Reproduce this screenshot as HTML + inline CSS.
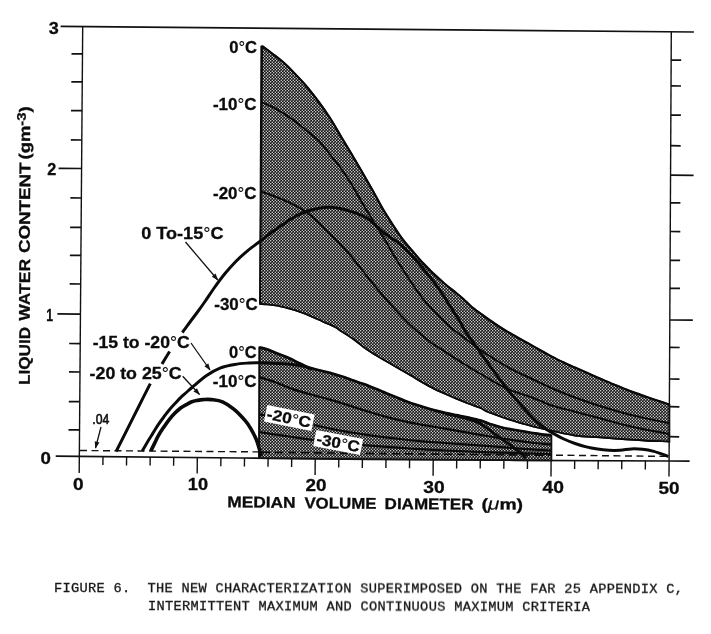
<!DOCTYPE html>
<html><head><meta charset="utf-8"><title>Figure 6</title>
<style>
html,body{margin:0;padding:0;background:#fff;}
body{width:711px;height:634px;position:relative;overflow:hidden;font-family:"Liberation Sans",sans-serif;}
svg text.b{font-family:"Liberation Sans",sans-serif;font-weight:bold;fill:#0c0c0c;stroke:#0c0c0c;stroke-width:0.3px;}
svg tspan.mu{font-weight:normal;font-style:italic;stroke-width:0.15px;}
svg tspan.dg{font-weight:normal;stroke-width:0.1px;}
svg text.n{font-family:"Liberation Sans",sans-serif;font-weight:normal;fill:#111;stroke:#111;stroke-width:0.6px;}
.cap{position:absolute;will-change:transform;font-family:"Liberation Mono",monospace;font-size:13.7px;letter-spacing:0.29px;color:#151515;-webkit-text-stroke:0.3px #151515;white-space:pre;line-height:1;transform-origin:0 0;}
</style></head><body>
<svg width="711" height="634" viewBox="0 0 711 634" style="position:absolute;left:0;top:0;will-change:transform">
<defs><pattern id="ht" width="3" height="3" patternUnits="userSpaceOnUse"><rect width="3" height="3" fill="#111"/><circle cx="0.75" cy="0.75" r="0.66" fill="#fff"/><circle cx="2.25" cy="2.25" r="0.66" fill="#fff"/></pattern>
<marker id="ah" viewBox="0 0 10 10" refX="9" refY="5" markerWidth="9" markerHeight="7" orient="auto" markerUnits="userSpaceOnUse"><path d="M0,1.5 L10,5 L0,8.5 Z" fill="#111"/></marker></defs>
<path d="M262.3,46.2 C264.2,47.6 270.0,51.9 273.8,54.8 C277.6,57.7 281.2,60.4 285.0,63.8 C288.8,67.2 292.6,71.3 296.3,75.3 C300.1,79.2 303.8,83.0 307.5,87.5 C311.2,92.0 315.1,96.9 318.8,102.0 C322.6,107.1 326.2,112.2 330.0,118.0 C333.8,123.8 337.6,130.7 341.3,137.0 C345.1,143.3 349.2,150.0 352.5,155.6 C355.8,161.2 358.0,164.9 361.1,170.3 C364.2,175.7 367.7,181.7 371.3,188.0 C374.9,194.3 378.8,201.9 382.5,208.3 C386.2,214.7 390.4,221.1 393.8,226.3 C397.2,231.5 399.9,235.6 402.8,239.5 C405.7,243.4 408.0,245.8 411.3,249.7 C414.6,253.5 418.8,258.6 422.5,262.6 C426.2,266.6 430.1,270.3 433.8,273.9 C437.6,277.5 441.2,280.8 445.0,284.0 C448.8,287.2 453.1,290.4 456.3,293.0 C459.5,295.6 461.6,297.6 464.1,299.8 C466.6,302.1 468.2,304.0 471.3,306.5 C474.4,309.0 478.8,312.2 482.5,315.0 C486.2,317.8 490.1,320.4 493.8,323.0 C497.6,325.6 501.2,328.0 505.0,330.3 C508.8,332.6 512.5,334.6 516.3,336.7 C520.0,338.8 523.3,340.7 527.5,343.0 C531.7,345.3 537.1,348.4 541.3,350.7 C545.5,353.0 548.8,354.9 552.5,356.9 C556.2,358.9 560.0,360.7 563.8,362.5 C567.5,364.3 571.2,365.9 575.0,367.6 C578.8,369.3 582.5,370.9 586.3,372.6 C590.0,374.3 593.3,375.8 597.5,377.6 C601.7,379.4 607.1,381.7 611.3,383.4 C615.5,385.1 618.8,386.4 622.5,387.9 C626.2,389.4 630.0,391.0 633.8,392.4 C637.5,393.8 641.2,395.1 645.0,396.4 C648.8,397.7 652.2,398.9 656.3,400.3 C660.4,401.7 667.3,403.8 669.5,404.5 L669.5,441.3 L669.5,441.6 C665.4,441.4 652.8,441.0 645.0,440.6 C637.2,440.2 630.0,439.6 622.5,439.1 C615.0,438.6 607.9,438.0 600.0,437.4 C592.1,436.8 582.9,436.7 575.0,435.6 C567.1,434.5 557.9,432.1 552.5,431.0 C547.1,429.9 546.0,429.7 542.5,428.8 C539.0,427.9 535.0,426.9 531.3,425.9 C527.5,424.9 523.8,424.1 520.0,423.0 C516.2,421.9 512.5,420.8 508.8,419.6 C505.1,418.4 501.2,417.0 497.5,415.6 C493.8,414.2 489.2,412.6 486.3,411.3 C483.4,410.0 483.1,409.1 480.0,407.8 C476.9,406.5 471.4,404.8 467.5,403.3 C463.6,401.8 460.1,400.4 456.3,398.8 C452.6,397.2 448.8,395.5 445.0,393.8 C441.2,392.1 437.6,390.6 433.8,388.7 C430.1,386.8 426.2,384.6 422.5,382.5 C418.8,380.4 415.1,378.0 411.3,375.8 C407.6,373.6 404.2,371.7 400.0,369.3 C395.8,366.9 390.5,363.8 386.3,361.4 C382.1,359.0 378.8,357.0 375.0,354.7 C371.2,352.4 367.6,350.0 363.8,347.3 C360.1,344.6 356.2,341.3 352.5,338.6 C348.8,335.9 344.2,333.2 341.3,331.3 C338.4,329.4 338.1,328.7 335.0,327.1 C331.9,325.5 326.4,323.3 322.5,321.5 C318.6,319.7 315.1,318.0 311.3,316.4 C307.6,314.8 303.8,313.2 300.0,311.9 C296.2,310.6 292.6,309.6 288.8,308.6 C285.1,307.6 281.2,306.5 277.5,305.8 C273.8,305.1 269.2,304.7 266.3,304.4 C263.4,304.1 261.1,304.2 260.0,304.1 Z" fill="url(#ht)" stroke="#111" stroke-width="1.6" stroke-linejoin="miter"/>
<path d="M259.3,347.4 C260.5,347.7 263.3,348.1 266.3,349.1 C269.3,350.1 273.8,352.1 277.5,353.6 C281.2,355.1 285.1,356.5 288.8,358.1 C292.6,359.8 296.6,361.9 300.0,363.5 C303.4,365.1 304.0,365.9 309.0,367.5 C314.0,369.1 324.6,371.4 330.0,372.9 C335.4,374.4 337.6,375.1 341.3,376.3 C345.1,377.5 348.8,378.9 352.5,380.2 C356.2,381.5 360.1,382.7 363.8,384.1 C367.6,385.5 371.2,387.1 375.0,388.6 C378.8,390.1 382.1,391.5 386.3,393.2 C390.5,394.9 395.8,397.1 400.0,398.8 C404.2,400.5 407.6,402.0 411.3,403.3 C415.1,404.6 418.8,405.6 422.5,406.7 C426.2,407.8 430.1,409.1 433.8,410.1 C437.6,411.1 441.2,412.1 445.0,412.9 C448.8,413.7 452.6,414.4 456.3,415.1 C460.1,415.9 463.6,416.5 467.5,417.4 C471.4,418.3 476.2,419.3 480.0,420.4 C483.8,421.5 486.5,422.9 490.0,424.0 C493.5,425.1 497.2,426.3 501.0,427.2 C504.8,428.1 506.8,428.5 512.5,429.5 C518.2,430.5 528.5,432.3 535.0,433.3 C541.5,434.3 548.8,435.1 551.5,435.5 L551.5,460.5 L259.3,458.2 Z" fill="url(#ht)" stroke="#111" stroke-width="1.6"/>
<path d="M261.4,102.0 C263.5,102.9 269.9,105.5 273.8,107.6 C277.7,109.7 281.2,112.0 285.0,114.4 C288.8,116.9 292.6,119.5 296.3,122.3 C300.1,125.1 303.8,128.4 307.5,131.5 C311.2,134.6 315.1,137.0 318.8,140.8 C322.6,144.6 326.5,150.1 330.0,154.5 C333.5,158.9 336.4,162.1 340.0,167.0 C343.6,171.9 347.6,177.9 351.3,184.0 C355.1,190.1 358.8,197.2 362.5,203.5 C366.2,209.8 370.1,215.9 373.8,222.0 C377.6,228.1 381.2,233.8 385.0,240.0 C388.8,246.2 392.4,253.0 396.3,259.3 C400.2,265.6 405.0,272.8 408.4,278.0 C411.8,283.2 414.1,286.7 416.9,290.6 C419.7,294.5 422.5,298.2 425.3,301.6 C428.1,305.0 431.0,307.9 433.8,310.9 C436.6,313.8 439.3,316.4 442.2,319.3 C445.1,322.2 447.9,325.1 451.3,328.0 C454.7,330.9 458.8,333.7 462.5,336.5 C466.2,339.3 470.1,342.2 473.8,345.0 C477.6,347.8 479.4,349.3 485.0,353.0 C490.6,356.7 500.0,362.8 507.5,367.0 C515.0,371.2 522.5,374.4 530.0,378.0 C537.5,381.6 545.0,385.2 552.5,388.5 C560.0,391.8 567.5,394.7 575.0,397.5 C582.5,400.3 590.0,402.9 597.5,405.3 C605.0,407.7 612.5,409.9 620.0,412.0 C627.5,414.1 634.2,415.7 642.5,417.6 C650.8,419.5 665.0,422.4 669.5,423.3" fill="none" stroke="#0a0a0a" stroke-width="2.0"/>
<path d="M261.4,191.5 C265.3,193.0 277.3,196.9 285.0,200.5 C292.7,204.1 300.0,207.3 307.5,212.9 C315.0,218.5 324.6,228.8 330.0,234.0 C335.4,239.2 336.4,240.2 340.0,244.0 C343.6,247.8 347.6,252.1 351.3,256.5 C355.1,260.9 358.9,266.0 362.5,270.5 C366.1,275.0 368.8,278.7 372.8,283.5 C376.8,288.3 381.8,294.3 386.3,299.5 C390.8,304.7 396.3,310.6 400.0,314.5 C403.7,318.4 405.6,320.4 408.4,323.2 C411.2,325.9 414.1,328.5 416.9,331.0 C419.7,333.5 422.5,335.7 425.3,338.0 C428.1,340.3 431.4,342.9 433.8,344.6 C436.2,346.3 435.2,345.3 440.0,348.4 C444.8,351.5 455.0,358.3 462.5,363.0 C470.0,367.7 477.5,372.2 485.0,376.5 C492.5,380.8 500.0,385.5 507.5,388.9 C515.0,392.3 524.4,394.7 530.0,396.8 C535.6,398.9 537.5,399.8 541.3,401.3 C545.0,402.8 546.9,404.1 552.5,405.8 C558.1,407.5 567.1,409.6 575.0,411.7 C582.9,413.8 592.1,416.2 600.0,418.3 C607.9,420.4 615.0,422.6 622.5,424.5 C630.0,426.4 637.2,428.0 645.0,429.6 C652.8,431.2 665.4,433.3 669.5,434.0" fill="none" stroke="#0a0a0a" stroke-width="2.0"/>
<path d="M259.3,377.1 C262.0,378.0 269.8,380.2 275.3,382.2 C280.8,384.2 286.6,386.9 292.2,388.9 C297.8,390.9 302.7,392.2 309.0,394.0 C315.3,395.8 323.8,397.9 330.0,399.6 C336.2,401.4 340.4,402.7 346.0,404.5 C351.6,406.3 357.1,408.1 363.8,410.2 C370.5,412.3 380.3,415.2 386.3,416.9 C392.3,418.6 396.1,419.4 400.0,420.3 C403.9,421.2 406.2,421.9 410.0,422.6 C413.8,423.4 416.7,423.8 422.5,424.8 C428.3,425.8 437.5,427.3 445.0,428.6 C452.5,429.9 460.0,431.3 467.5,432.6 C475.0,433.9 482.5,435.2 490.0,436.5 C497.5,437.8 505.0,439.0 512.5,440.1 C520.0,441.2 528.5,442.2 535.0,443.0 C541.5,443.8 548.8,444.3 551.5,444.6" fill="none" stroke="#0a0a0a" stroke-width="2.2"/>
<path d="M259.3,414.3 C260.8,414.6 266.6,415.6 268.0,415.8" fill="none" stroke="#0a0a0a" stroke-width="2.2"/>
<path d="M314.0,425.0 C317.4,425.8 328.2,428.2 334.4,429.5 C340.6,430.8 345.4,431.5 351.3,432.5 C357.2,433.5 361.9,434.3 370.0,435.4 C378.1,436.5 391.2,438.0 400.0,439.0 C408.8,440.0 415.0,440.6 422.5,441.3 C430.0,442.0 437.5,442.4 445.0,443.0 C452.5,443.6 460.0,444.1 467.5,444.6 C475.0,445.1 482.5,445.6 490.0,446.2 C497.5,446.8 505.0,447.4 512.5,448.0 C520.0,448.6 528.5,449.2 535.0,449.6 C541.5,450.1 548.8,450.5 551.5,450.7" fill="none" stroke="#0a0a0a" stroke-width="2.2"/>
<path d="M259.3,432.0 C262.0,432.4 269.8,433.7 275.3,434.5 C280.8,435.3 285.8,436.1 292.2,437.0 C298.6,437.9 310.4,439.7 314.0,440.2" fill="none" stroke="#0a0a0a" stroke-width="2.2"/>
<path d="M362.5,445.1 C366.5,445.4 378.4,446.2 386.3,446.8 C394.2,447.4 400.2,447.9 410.0,448.5 C419.8,449.1 431.7,449.9 445.0,450.5 C458.3,451.1 472.2,451.7 490.0,452.3 C507.8,452.9 541.2,453.7 551.5,454.0" fill="none" stroke="#0a0a0a" stroke-width="2.2"/>
<path d="M262.3,46.2 C264.2,47.6 270.0,51.9 273.8,54.8 C277.6,57.7 281.2,60.4 285.0,63.8 C288.8,67.2 292.6,71.3 296.3,75.3 C300.1,79.2 303.8,83.0 307.5,87.5 C311.2,92.0 315.1,96.9 318.8,102.0 C322.6,107.1 326.2,112.2 330.0,118.0 C333.8,123.8 337.6,130.7 341.3,137.0 C345.1,143.3 349.2,150.0 352.5,155.6 C355.8,161.2 358.0,164.9 361.1,170.3 C364.2,175.7 367.7,181.7 371.3,188.0 C374.9,194.3 378.8,201.9 382.5,208.3 C386.2,214.7 390.4,221.1 393.8,226.3 C397.2,231.5 399.9,235.6 402.8,239.5 C405.7,243.4 408.0,245.8 411.3,249.7 C414.6,253.5 418.8,258.6 422.5,262.6 C426.2,266.6 430.1,270.3 433.8,273.9 C437.6,277.5 441.2,280.8 445.0,284.0 C448.8,287.2 453.1,290.4 456.3,293.0 C459.5,295.6 461.6,297.6 464.1,299.8 C466.6,302.1 468.2,304.0 471.3,306.5 C474.4,309.0 478.8,312.2 482.5,315.0 C486.2,317.8 490.1,320.4 493.8,323.0 C497.6,325.6 501.2,328.0 505.0,330.3 C508.8,332.6 512.5,334.6 516.3,336.7 C520.0,338.8 523.3,340.7 527.5,343.0 C531.7,345.3 537.1,348.4 541.3,350.7 C545.5,353.0 548.8,354.9 552.5,356.9 C556.2,358.9 560.0,360.7 563.8,362.5 C567.5,364.3 571.2,365.9 575.0,367.6 C578.8,369.3 582.5,370.9 586.3,372.6 C590.0,374.3 593.3,375.8 597.5,377.6 C601.7,379.4 607.1,381.7 611.3,383.4 C615.5,385.1 618.8,386.4 622.5,387.9 C626.2,389.4 630.0,391.0 633.8,392.4 C637.5,393.8 641.2,395.1 645.0,396.4 C648.8,397.7 652.2,398.9 656.3,400.3 C660.4,401.7 667.3,403.8 669.5,404.5" fill="none" stroke="#0a0a0a" stroke-width="2.2"/>
<path d="M261.3,45.8 L260.0,304.3" fill="none" stroke="#0a0a0a" stroke-width="1.8"/>
<path d="M260.0,304.1 C261.1,304.2 263.4,304.1 266.3,304.4 C269.2,304.7 273.8,305.1 277.5,305.8 C281.2,306.5 285.1,307.6 288.8,308.6 C292.6,309.6 296.2,310.6 300.0,311.9 C303.8,313.2 307.6,314.8 311.3,316.4 C315.1,318.0 318.6,319.7 322.5,321.5 C326.4,323.3 331.9,325.5 335.0,327.1 C338.1,328.7 338.4,329.4 341.3,331.3 C344.2,333.2 348.8,335.9 352.5,338.6 C356.2,341.3 360.1,344.6 363.8,347.3 C367.6,350.0 371.2,352.4 375.0,354.7 C378.8,357.0 382.1,359.0 386.3,361.4 C390.5,363.8 395.8,366.9 400.0,369.3 C404.2,371.7 407.6,373.6 411.3,375.8 C415.1,378.0 418.8,380.4 422.5,382.5 C426.2,384.6 430.1,386.8 433.8,388.7 C437.6,390.6 441.2,392.1 445.0,393.8 C448.8,395.5 452.6,397.2 456.3,398.8 C460.1,400.4 463.6,401.8 467.5,403.3 C471.4,404.8 476.9,406.5 480.0,407.8 C483.1,409.1 483.4,410.0 486.3,411.3 C489.2,412.6 493.8,414.2 497.5,415.6 C501.2,417.0 505.1,418.4 508.8,419.6 C512.5,420.8 516.2,421.9 520.0,423.0 C523.8,424.1 527.5,424.9 531.3,425.9 C535.0,426.9 539.0,427.9 542.5,428.8 C546.0,429.7 547.1,429.9 552.5,431.0 C557.9,432.1 567.1,434.5 575.0,435.6 C582.9,436.7 592.1,436.8 600.0,437.4 C607.9,438.0 615.0,438.6 622.5,439.1 C630.0,439.6 637.2,440.2 645.0,440.6 C652.8,441.0 665.4,441.4 669.5,441.6" fill="none" stroke="#0a0a0a" stroke-width="1.6"/>
<path d="M259.3,347.4 C260.5,347.7 263.3,348.1 266.3,349.1 C269.3,350.1 273.8,352.1 277.5,353.6 C281.2,355.1 285.1,356.5 288.8,358.1 C292.6,359.8 296.6,361.9 300.0,363.5 C303.4,365.1 304.0,365.9 309.0,367.5 C314.0,369.1 324.6,371.4 330.0,372.9 C335.4,374.4 337.6,375.1 341.3,376.3 C345.1,377.5 348.8,378.9 352.5,380.2 C356.2,381.5 360.1,382.7 363.8,384.1 C367.6,385.5 371.2,387.1 375.0,388.6 C378.8,390.1 382.1,391.5 386.3,393.2 C390.5,394.9 395.8,397.1 400.0,398.8 C404.2,400.5 407.6,402.0 411.3,403.3 C415.1,404.6 418.8,405.6 422.5,406.7 C426.2,407.8 430.1,409.1 433.8,410.1 C437.6,411.1 441.2,412.1 445.0,412.9 C448.8,413.7 452.6,414.4 456.3,415.1 C460.1,415.9 463.6,416.5 467.5,417.4 C471.4,418.3 476.2,419.3 480.0,420.4 C483.8,421.5 486.5,422.9 490.0,424.0 C493.5,425.1 497.2,426.3 501.0,427.2 C504.8,428.1 506.8,428.5 512.5,429.5 C518.2,430.5 528.5,432.3 535.0,433.3 C541.5,434.3 548.8,435.1 551.5,435.5" fill="none" stroke="#0a0a0a" stroke-width="2.7"/>
<path d="M259.6,347 L259,457.5" fill="none" stroke="#0a0a0a" stroke-width="1.8"/>
<g stroke="#111" stroke-width="1.7" fill="none">
<path d="M60.6,26.4 L693.9,32.0"/>
<path d="M82.7,26.6 L79.2,473" stroke-width="1.4"/>
<path d="M671.3,31.7 L669,476.5" stroke-width="1.4"/>
<path d="M55.7,456.2 L79.4,456.4 L240.0,458.0 L370.0,459.5 L515.0,460.3 L669.0,461.0 L689.6,461.2"/>
<path d="M71.5,53.8 L82.5,53.9"/>
<path d="M71.3,81.8 L82.3,81.9"/>
<path d="M71.0,110.6 L82.0,110.7"/>
<path d="M70.8,139.9 L81.8,140.0"/>
<path d="M58.6,168.3 L81.6,168.5"/>
<path d="M70.4,197.9 L81.4,198.0"/>
<path d="M70.1,227.3 L81.1,227.4"/>
<path d="M69.9,255.3 L80.9,255.4"/>
<path d="M69.7,283.9 L80.7,284.0"/>
<path d="M57.4,313.9 L80.4,314.1"/>
<path d="M69.2,343.5 L80.2,343.6"/>
<path d="M69.0,371.9 L80.0,372.0"/>
<path d="M68.8,401.6 L79.8,401.7"/>
<path d="M68.5,429.8 L79.5,429.9"/>
<path d="M671.2,60.1 L681.2,60.2"/>
<path d="M671.0,85.9 L681.0,86.0"/>
<path d="M670.9,115.1 L680.9,115.2"/>
<path d="M670.7,145.7 L680.7,145.8"/>
<path d="M670.6,175.1 L693.6,175.3"/>
<path d="M670.4,202.8 L680.4,202.9"/>
<path d="M670.3,231.5 L680.3,231.6"/>
<path d="M670.1,260.3 L680.1,260.4"/>
<path d="M670.0,288.3 L680.0,288.4"/>
<path d="M669.8,320.0 L692.8,320.2"/>
<path d="M669.7,347.4 L679.7,347.5"/>
<path d="M669.5,379.0 L679.5,379.1"/>
<path d="M669.4,406.7 L679.4,406.8"/>
<path d="M669.2,436.7 L679.2,436.8"/>
<path d="M103.0,456.6 L102.9,465.1" stroke-width="1.4"/>
<path d="M126.6,456.9 L126.5,465.4" stroke-width="1.4"/>
<path d="M150.2,457.1 L150.1,465.6" stroke-width="1.4"/>
<path d="M173.7,457.3 L173.6,465.8" stroke-width="1.4"/>
<path d="M197.3,457.6 L197.2,473.6" stroke-width="1.4"/>
<path d="M220.9,457.8 L220.8,466.3" stroke-width="1.4"/>
<path d="M244.5,458.1 L244.4,466.6" stroke-width="1.4"/>
<path d="M268.1,458.3 L268.0,466.8" stroke-width="1.4"/>
<path d="M291.7,458.6 L291.6,467.1" stroke-width="1.4"/>
<path d="M315.2,458.9 L315.1,474.9" stroke-width="1.4"/>
<path d="M338.8,459.1 L338.7,467.6" stroke-width="1.4"/>
<path d="M362.4,459.4 L362.3,467.9" stroke-width="1.4"/>
<path d="M386.0,459.6 L385.9,468.1" stroke-width="1.4"/>
<path d="M409.6,459.7 L409.5,468.2" stroke-width="1.4"/>
<path d="M433.2,459.8 L433.1,475.8" stroke-width="1.4"/>
<path d="M456.7,460.0 L456.6,468.5" stroke-width="1.4"/>
<path d="M480.3,460.1 L480.2,468.6" stroke-width="1.4"/>
<path d="M503.9,460.2 L503.8,468.7" stroke-width="1.4"/>
<path d="M527.5,460.4 L527.4,468.9" stroke-width="1.4"/>
<path d="M551.1,460.5 L551.0,476.5" stroke-width="1.4"/>
<path d="M574.7,460.6 L574.6,469.1" stroke-width="1.4"/>
<path d="M598.2,460.7 L598.1,469.2" stroke-width="1.4"/>
<path d="M621.8,460.8 L621.7,469.3" stroke-width="1.4"/>
<path d="M645.4,460.9 L645.3,469.4" stroke-width="1.4"/>
</g>
<path d="M80,450.5 L259,451.9" stroke="#111" stroke-width="1.4" stroke-dasharray="7,4.5" fill="none"/>
<path d="M262,452.3 L551,455.3" stroke="#0a0a0a" stroke-width="1.6" stroke-dasharray="8,5" fill="none"/>
<path d="M556,455.2 L668,456.4" stroke="#111" stroke-width="1.4" stroke-dasharray="7,4.5" fill="none"/>
<path d="M116.1,451.5 C118.0,447.7 123.7,436.5 127.5,428.9 C131.3,421.3 135.2,413.6 139.0,406.0 C142.8,398.4 148.4,387.3 150.3,383.6" fill="none" stroke="#0a0a0a" stroke-width="3" stroke-linecap="butt"/>
<path d="M162.0,364.0 C162.6,363.0 164.3,360.1 165.6,358.0 C166.9,355.9 168.9,352.6 169.6,351.5" fill="none" stroke="#0a0a0a" stroke-width="3" stroke-linecap="butt"/>
<path d="M182.3,332.5 C183.6,330.8 187.5,325.4 190.0,322.0 C192.5,318.6 195.0,315.4 197.5,312.0 C200.0,308.6 202.3,305.4 205.0,301.5 C207.7,297.6 210.5,293.2 213.8,288.5 C217.1,283.8 221.2,278.1 225.0,273.5 C228.8,268.9 232.6,264.8 236.3,261.0 C240.1,257.2 243.8,253.9 247.5,250.8 C251.2,247.7 254.7,245.4 258.8,242.3 C262.9,239.2 267.6,235.2 272.0,232.0 C276.4,228.8 281.0,225.7 285.0,223.0 C289.0,220.3 292.2,218.0 296.0,216.0 C299.8,214.0 303.7,212.3 307.5,211.0 C311.3,209.7 315.2,208.8 319.0,208.2 C322.8,207.6 326.5,207.2 330.0,207.3 C333.5,207.4 337.0,207.9 340.0,208.5 C343.0,209.1 345.0,209.7 348.0,210.6 C351.0,211.5 355.0,212.7 358.0,213.8 C361.0,215.0 363.7,216.1 366.0,217.5 C368.3,218.9 370.0,220.3 372.0,222.0 C374.0,223.7 376.2,225.8 378.0,227.4 C379.8,229.0 380.7,230.0 382.5,231.5 C384.3,233.0 386.1,234.4 389.0,236.5 C391.9,238.6 396.3,240.9 400.0,244.0 C403.7,247.1 407.6,251.0 411.3,255.0 C415.1,259.0 418.8,263.5 422.5,268.0 C426.2,272.5 430.4,277.4 433.8,281.8 C437.2,286.2 440.0,290.3 442.8,294.5 C445.6,298.7 447.7,302.5 450.6,307.0 C453.5,311.5 457.5,317.6 460.0,321.7 C462.5,325.8 463.7,328.6 465.6,331.6 C467.5,334.6 469.4,337.1 471.3,339.7 C473.2,342.3 475.0,344.9 476.9,347.5 C478.8,350.1 480.3,352.4 482.5,355.5 C484.7,358.6 487.7,362.8 490.0,366.0 C492.3,369.2 493.4,370.7 496.3,374.6 C499.2,378.5 504.9,385.9 507.5,389.3 C510.1,392.7 510.2,392.7 512.1,394.9 C514.0,397.1 515.8,399.2 518.8,402.6 C521.8,406.0 526.8,411.6 530.0,415.0 C533.2,418.4 535.2,420.6 538.0,423.0 C540.8,425.4 544.2,427.8 547.0,429.7 C549.8,431.6 552.2,432.8 555.0,434.4 C557.8,435.9 560.5,437.5 563.8,439.0 C567.1,440.5 571.2,442.2 575.0,443.5 C578.8,444.8 582.5,446.0 586.3,446.9 C590.0,447.8 593.8,448.5 597.5,449.1 C601.2,449.7 605.0,450.1 608.8,450.3 C612.5,450.5 616.2,450.5 620.0,450.3 C623.8,450.1 627.5,449.1 631.3,448.9 C635.0,448.7 638.8,448.9 642.5,449.3 C646.2,449.7 650.0,450.4 653.8,451.4 C657.5,452.4 662.6,454.3 665.0,455.2 C667.4,456.1 667.8,456.3 668.4,456.5" fill="none" stroke="#0a0a0a" stroke-width="3" stroke-linecap="butt"/>
<path d="M142.2,451.0 C143.0,449.6 145.2,445.8 146.9,442.9 C148.6,440.0 150.6,436.9 152.5,433.9 C154.4,430.9 156.2,427.7 158.1,424.9 C160.0,422.1 161.9,419.5 163.8,417.0 C165.7,414.5 167.5,411.9 169.4,409.7 C171.3,407.4 173.1,405.5 175.0,403.5 C176.9,401.5 178.7,399.4 180.6,397.6 C182.5,395.8 184.3,394.3 186.3,392.5 C188.3,390.7 189.1,389.9 192.5,387.0 C195.9,384.1 201.9,378.6 206.6,375.4 C211.3,372.2 215.9,369.6 220.6,367.8 C225.3,366.0 230.0,365.2 234.7,364.4 C239.4,363.6 244.7,363.3 248.8,363.0 C252.9,362.7 254.9,362.7 259.3,362.8 C263.7,362.9 269.8,363.1 275.3,363.4 C280.8,363.7 287.4,364.0 292.2,364.5 C297.0,365.0 300.7,365.6 304.0,366.4 C307.3,367.2 310.7,368.7 312.0,369.2" fill="none" stroke="#0a0a0a" stroke-width="3"/>
<path d="M445.0,413.6 C446.8,414.0 452.3,415.2 456.0,416.0 C459.7,416.8 463.3,417.5 467.0,418.6 C470.7,419.7 474.8,421.0 478.0,422.5 C481.2,424.0 483.1,425.4 486.3,427.6 C489.6,429.9 493.8,433.3 497.5,436.0 C501.2,438.7 505.1,441.1 508.8,443.8 C512.5,446.5 517.1,449.9 520.0,452.4 C522.9,454.8 525.0,457.5 526.0,458.5" fill="none" stroke="#0a0a0a" stroke-width="2.8"/>
<path d="M150.8,451.0 C151.5,449.6 153.6,445.4 154.8,442.9 C156.0,440.4 156.6,438.7 158.1,436.1 C159.6,433.5 161.9,429.9 163.8,427.1 C165.7,424.3 167.5,421.6 169.4,419.3 C171.3,417.0 173.1,415.0 175.0,413.1 C176.9,411.2 178.7,409.4 180.6,408.0 C182.5,406.6 184.4,405.6 186.3,404.6 C188.2,403.6 190.0,402.5 191.9,401.8 C193.8,401.1 195.6,400.8 197.5,400.4 C199.4,400.0 200.8,399.7 203.1,399.6 C205.4,399.5 208.1,399.2 211.3,399.6 C214.5,400.0 218.8,400.2 222.5,401.8 C226.2,403.4 230.1,406.0 233.8,409.1 C237.6,412.2 242.2,417.2 245.0,420.4 C247.8,423.6 248.7,425.1 250.6,428.3 C252.5,431.5 254.8,435.9 256.3,439.5 C257.8,443.1 258.8,447.2 259.6,450.0 C260.4,452.8 260.9,455.4 261.2,456.5" fill="none" stroke="#0a0a0a" stroke-width="3.6"/>
<path d="M185.5,242.0 L217.8,280.0" stroke="#111" stroke-width="1.3" marker-end="url(#ah)"/>
<path d="M191.0,343.0 L210.0,370.0" stroke="#111" stroke-width="1.3" marker-end="url(#ah)"/>
<path d="M182.7,376.3 L199.5,394.5" stroke="#111" stroke-width="1.3" marker-end="url(#ah)"/>
<path d="M101.0,427.0 L95.5,448.0" stroke="#111" stroke-width="1.3" marker-end="url(#ah)"/>
<g transform="translate(267.3,405.0) rotate(11.4)"><rect x="0" y="0" width="48.3" height="16.8" fill="#fff"/><text x="1.6" y="13.9" textLength="44.5" lengthAdjust="spacingAndGlyphs" class="b" font-size="15.3">-20<tspan class="dg">°</tspan>C</text></g>
<g transform="translate(316.4,430.0) rotate(10.8)"><rect x="0" y="0" width="47.6" height="16.4" fill="#fff"/><text x="2" y="13.7" textLength="43.6" lengthAdjust="spacingAndGlyphs" class="b" font-size="15.3">-30<tspan class="dg">°</tspan>C</text></g>
<text x="48.8" y="33.8" textLength="10.0" lengthAdjust="spacingAndGlyphs" class="b" font-size="16">3</text>
<text x="47.2" y="174.5" textLength="9.0" lengthAdjust="spacingAndGlyphs" class="b" font-size="16">2</text>
<text x="46.2" y="320.7" textLength="6.8" lengthAdjust="spacingAndGlyphs" class="b" font-size="16">1</text>
<text x="40.6" y="463.9" textLength="10.4" lengthAdjust="spacingAndGlyphs" class="b" font-size="16">0</text>
<text x="72.9" y="490.2" textLength="10.6" lengthAdjust="spacingAndGlyphs" class="b" font-size="16">0</text>
<text x="187.8" y="490.4" textLength="20.2" lengthAdjust="spacingAndGlyphs" class="b" font-size="16">10</text>
<text x="305.6" y="491.1" textLength="21.0" lengthAdjust="spacingAndGlyphs" class="b" font-size="16">20</text>
<text x="423.3" y="492.5" textLength="21.4" lengthAdjust="spacingAndGlyphs" class="b" font-size="16">30</text>
<text x="542.6" y="493.2" textLength="21.4" lengthAdjust="spacingAndGlyphs" class="b" font-size="16">40</text>
<text x="658.6" y="493.8" textLength="21.0" lengthAdjust="spacingAndGlyphs" class="b" font-size="16">50</text>
<text x="229.2" y="53.2" textLength="27.9" lengthAdjust="spacingAndGlyphs" class="b" font-size="16">0<tspan class="dg">°</tspan>C</text>
<text x="212.9" y="110.4" textLength="43.6" lengthAdjust="spacingAndGlyphs" class="b" font-size="16">-10<tspan class="dg">°</tspan>C</text>
<text x="213.0" y="198.5" textLength="43.4" lengthAdjust="spacingAndGlyphs" class="b" font-size="16">-20<tspan class="dg">°</tspan>C</text>
<text x="214.3" y="310.2" textLength="43.5" lengthAdjust="spacingAndGlyphs" class="b" font-size="16">-30<tspan class="dg">°</tspan>C</text>
<text x="229.0" y="358.2" textLength="27.6" lengthAdjust="spacingAndGlyphs" class="b" font-size="16">0<tspan class="dg">°</tspan>C</text>
<text x="212.8" y="387.2" textLength="43.8" lengthAdjust="spacingAndGlyphs" class="b" font-size="16">-10<tspan class="dg">°</tspan>C</text>
<text x="141.3" y="239.3" textLength="82.2" lengthAdjust="spacingAndGlyphs" class="b" font-size="16">0 To-15<tspan class="dg">°</tspan>C</text>
<text x="92.7" y="348.4" textLength="97.0" lengthAdjust="spacingAndGlyphs" class="b" font-size="16">-15 to -20<tspan class="dg">°</tspan>C</text>
<text x="89.6" y="379.4" textLength="92.0" lengthAdjust="spacingAndGlyphs" class="b" font-size="16">-20 to 25<tspan class="dg">°</tspan>C</text>
<text x="92.3" y="423.8" textLength="17" lengthAdjust="spacingAndGlyphs" class="n" font-size="14">.04</text>
<text transform="translate(227.2,507.3) rotate(0.45)" textLength="68.4" lengthAdjust="spacingAndGlyphs" class="b" font-size="15.6">MEDIAN</text>
<text transform="translate(304.4,508.3) rotate(0.45)" textLength="72.0" lengthAdjust="spacingAndGlyphs" class="b" font-size="15.6">VOLUME</text>
<text transform="translate(384.6,509.0) rotate(0.45)" textLength="88.9" lengthAdjust="spacingAndGlyphs" class="b" font-size="15.6">DIAMETER</text>
<text transform="translate(481.4,509.4) rotate(0.45)" textLength="41.6" lengthAdjust="spacingAndGlyphs" class="b" font-size="15.6">(<tspan class="mu" font-size="17">μ</tspan>m)</text>
<text transform="translate(29.7,385.0) rotate(-89.6)" textLength="58.0" lengthAdjust="spacingAndGlyphs" class="b" font-size="15.6">LIQUID</text>
<text transform="translate(29.7,320.7) rotate(-89.6)" textLength="61.7" lengthAdjust="spacingAndGlyphs" class="b" font-size="15.6">WATER</text>
<text transform="translate(29.7,253.0) rotate(-89.6)" textLength="90.4" lengthAdjust="spacingAndGlyphs" class="b" font-size="15.6">CONTENT</text>
<text transform="translate(29.9,159.4) rotate(-89.6)" textLength="53" lengthAdjust="spacingAndGlyphs" class="b" font-size="15.6">(gm<tspan dy="-4.5" font-size="12.5">-3</tspan><tspan dy="4.5">)</tspan></text>
</svg>
<div class="cap" style="left:54.2px;top:582.0px;transform:rotate(0.08deg)">FIGURE 6.  THE NEW CHARACTERIZATION SUPERIMPOSED ON THE FAR 25 APPENDIX C,</div>
<div class="cap" style="left:148px;top:600.2px;transform:rotate(0.12deg)">INTERMITTENT MAXIMUM AND CONTINUOUS MAXIMUM CRITERIA</div>
</body></html>
